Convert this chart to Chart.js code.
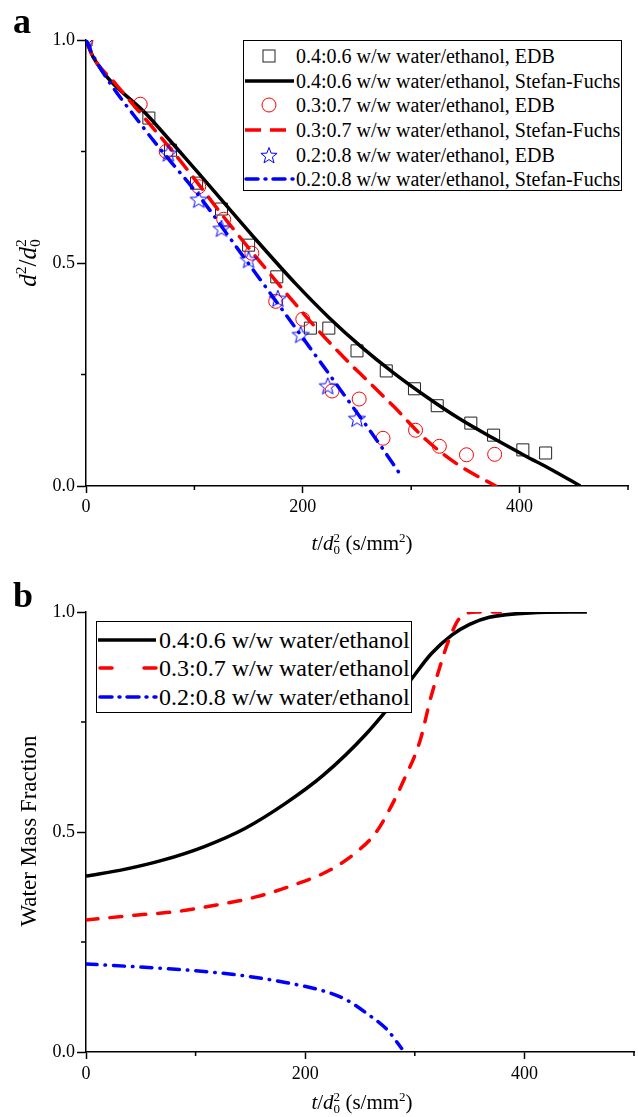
<!DOCTYPE html>
<html>
<head>
<meta charset="utf-8">
<script src="https://cdn.jsdelivr.net/npm/chart.js@4.4.1/dist/chart.umd.min.js"></script>
<style>
  body { margin: 0; background: #fff; }
  #wrap { position: relative; width: 638px; height: 1117px; font-family: 'Liberation Serif', 'Times New Roman', serif; color: #000; overflow: hidden; }
  canvas { position: absolute; left: 0; }
  .abs { position: absolute; white-space: nowrap; line-height: 1; }
  .letter { font-weight: bold; font-size: 36px; }
  .ss { display: inline-flex; flex-direction: column; font-size: 0.62em; line-height: 0.92em; vertical-align: 0.62em; }
  .sup { font-size: 0.62em; vertical-align: 0.62em; }
  .legend { position: absolute; box-sizing: border-box; border: 1.5px solid #000; background: #fff; }
  .row { position: absolute; left: 0; display: flex; align-items: center; white-space: nowrap; }
  .row svg { flex: none; }
</style>
</head>
<body>
<div id="wrap">
  <canvas id="chartA" width="638" height="530" style="top:0"></canvas>
  <canvas id="chartB" width="638" height="557" style="top:560px"></canvas>

  <div class="abs letter" style="left:13px; top:3px">a</div>
  <div class="abs letter" style="left:13px; top:577px">b</div>

  <!-- axis titles, panel a -->
  <div class="abs" style="left:28px; top:263px; font-size:25px; transform:translate(-50%,-50%) rotate(-90deg)">
    <i>d</i><span class="sup">2</span>/<i>d</i><span class="ss"><span>2</span><span>0</span></span>
  </div>
  <div class="abs" style="left:362px; top:543px; font-size:21px; transform:translate(-50%,-50%)">
    <i>t</i>/<i>d</i><span class="ss"><span>2</span><span>0</span></span> (s/mm<span class="sup">2</span>)
  </div>

  <!-- axis titles, panel b -->
  <div class="abs" style="left:28px; top:831px; font-size:23px; transform:translate(-50%,-50%) rotate(-90deg)">Water Mass Fraction</div>
  <div class="abs" style="left:362px; top:1102px; font-size:21px; transform:translate(-50%,-50%)">
    <i>t</i>/<i>d</i><span class="ss"><span>2</span><span>0</span></span> (s/mm<span class="sup">2</span>)
  </div>

  <!-- legend, panel a -->
  <div class="legend" style="left:243px; top:40px; width:379px; height:151px; font-size:20px">
    <div class="row" style="top:3px; height:24px"><svg width="52" height="24"><rect x="19" y="6" width="12" height="12" fill="none" stroke="#222" stroke-width="1"/></svg><span>0.4:0.6 w/w water/ethanol, EDB</span></div>
    <div class="row" style="top:28px; height:24px"><svg width="52" height="24"><line x1="1" y1="12" x2="50" y2="12" stroke="#000" stroke-width="3.5"/></svg><span>0.4:0.6 w/w water/ethanol, Stefan-Fuchs</span></div>
    <div class="row" style="top:52px; height:24px"><svg width="52" height="24"><circle cx="25" cy="12" r="7" fill="none" stroke="#ff0000" stroke-width="1"/></svg><span>0.3:0.7 w/w water/ethanol, EDB</span></div>
    <div class="row" style="top:77px; height:24px"><svg width="52" height="24"><line x1="1" y1="12" x2="50" y2="12" stroke="#ff0000" stroke-width="3.5" stroke-dasharray="16 9"/></svg><span>0.3:0.7 w/w water/ethanol, Stefan-Fuchs</span></div>
    <div class="row" style="top:102px; height:24px"><svg width="52" height="24"><polygon id="starPoly" fill="none" stroke="#0000ff" stroke-width="1"/></svg><span>0.2:0.8 w/w water/ethanol, EDB</span></div>
    <div class="row" style="top:126px; height:24px"><svg width="52" height="24"><line x1="2" y1="12" x2="50" y2="12" stroke="#0000ff" stroke-width="3.5" stroke-linecap="round" stroke-dasharray="12 7 1 7"/></svg><span>0.2:0.8 w/w water/ethanol, Stefan-Fuchs</span></div>
  </div>

  <!-- legend, panel b -->
  <div class="legend" style="left:96px; top:621px; width:316px; height:92px; font-size:24px">
    <div class="row" style="top:4px; height:28px"><svg width="62" height="28"><line x1="1" y1="14" x2="59" y2="14" stroke="#000" stroke-width="3.5"/></svg><span>0.4:0.6 w/w water/ethanol</span></div>
    <div class="row" style="top:32px; height:28px"><svg width="62" height="28"><line x1="3" y1="14" x2="59" y2="14" stroke="#ff0000" stroke-width="3.5" stroke-linecap="round" stroke-dasharray="12 32"/></svg><span>0.3:0.7 w/w water/ethanol</span></div>
    <div class="row" style="top:61px; height:28px"><svg width="62" height="28"><line x1="3" y1="14" x2="59" y2="14" stroke="#0000ff" stroke-width="3.5" stroke-linecap="round" stroke-dasharray="12 7 1 7"/></svg><span>0.2:0.8 w/w water/ethanol</span></div>
  </div>
</div>

<script>
// ---- panel a: d^2/d0^2 vs t/d0^2 ----
const edbT_46 = [0, 58, 78, 102, 125, 150, 176, 207, 224, 250, 277, 303, 324, 355, 376, 403, 424];
const edbV_46 = [1.0, 0.825, 0.753, 0.679, 0.621, 0.540, 0.469, 0.354, 0.354, 0.303, 0.258, 0.218, 0.180, 0.141, 0.114, 0.081, 0.074];
const edbT_37 = [0, 50, 74, 104, 127, 153, 175, 200, 227, 252, 274, 304, 326, 351, 377];
const edbV_37 = [1.0, 0.856, 0.750, 0.671, 0.598, 0.522, 0.414, 0.374, 0.213, 0.195, 0.107, 0.125, 0.089, 0.070, 0.071];
const edbT_28 = [0, 76, 104, 125, 150, 177, 198, 223, 250];
const edbV_28 = [1.0, 0.747, 0.643, 0.578, 0.508, 0.421, 0.340, 0.225, 0.152];

const sfT_46 = [0, 7, 58, 100, 154, 194, 224, 254, 284, 314, 345, 375, 405, 430, 456];
const sfV_46 = [1.0, 0.96, 0.828, 0.712, 0.56, 0.452, 0.378, 0.312, 0.253, 0.200, 0.150, 0.108, 0.068, 0.036, 0.0];
const sfT_37 = [0, 7, 25, 85, 133, 182, 212, 242, 258, 284, 314, 345, 378];
const sfV_37 = [1.0, 0.96, 0.908, 0.735, 0.585, 0.44, 0.355, 0.278, 0.24, 0.178, 0.103, 0.045, 0.0];
const sfT_28 = [0, 7, 55, 106, 139, 164, 206, 240, 269, 291];
const sfV_28 = [1.0, 0.963, 0.797, 0.645, 0.535, 0.452, 0.312, 0.198, 0.100, 0.022];

// ---- panel b: water mass fraction vs t/d0^2 ----
const wT_46 = [0, 35, 70, 108, 145, 182, 216, 256, 294, 315, 334, 350, 368, 405, 457];
const wV_46 = [0.40, 0.415, 0.436, 0.467, 0.508, 0.565, 0.628, 0.724, 0.838, 0.905, 0.948, 0.972, 0.988, 0.998, 1.0];
const wT_37 = [0, 45, 82, 119, 156, 190, 223, 249, 264, 275, 290, 305, 314, 323, 331, 342, 357, 378];
const wV_37 = [0.30, 0.311, 0.319, 0.334, 0.353, 0.38, 0.414, 0.459, 0.497, 0.542, 0.618, 0.709, 0.8, 0.876, 0.936, 0.989, 1.0, 1.0];
const wT_28 = [0, 70, 108, 145, 182, 219, 238, 256, 275, 288];
const wV_28 = [0.2, 0.19, 0.183, 0.173, 0.158, 0.137, 0.118, 0.088, 0.05, 0.008];

// axis ticks
const xMajor = [0, 200, 400];
const xMinor = [100, 300, 500];
const yMajor = [0, 0.5, 1.0];
const yMinor = [0.25, 0.75];

function pts(ts, vs) {
    return ts.map((t, i) => ({ x: t, y: vs[i] }));
}

function starPoints(cx, cy, r) {
    const p = [];
    for (let i = 0; i < 10; i++) {
        const a = -Math.PI / 2 + i * Math.PI / 5;
        const rr = i % 2 ? r * 0.42 : r;
        p.push([cx + rr * Math.cos(a), cy + rr * Math.sin(a)]);
    }
    return p;
}

// hollow 5-point star used as point style
function makeStar(r, color) {
    const s = Math.ceil(r * 2 + 4);
    const c = document.createElement('canvas');
    c.width = s; c.height = s;
    const g = c.getContext('2d');
    g.strokeStyle = color;
    g.lineWidth = 1;
    g.beginPath();
    starPoints(s / 2, s / 2 + 1, r).forEach(([px, py], i) => i ? g.lineTo(px, py) : g.moveTo(px, py));
    g.closePath();
    g.stroke();
    return c;
}
document.getElementById('starPoly').setAttribute('points',
    starPoints(25, 13, 8.5).map(p => p.join(',')).join(' '));

// shorter ticks for the minor positions
const minorTicks = {
    id: 'minorTicks',
    afterDraw(chart) {
        const { ctx, chartArea, scales: { x, y } } = chart;
        ctx.save();
        ctx.strokeStyle = '#000';
        ctx.lineWidth = 1.5;
        ctx.beginPath();
        xMinor.forEach(v => {
            const px = x.getPixelForValue(v);
            ctx.moveTo(px, chartArea.bottom);
            ctx.lineTo(px, chartArea.bottom + 4);
        });
        yMinor.forEach(v => {
            const py = y.getPixelForValue(v);
            ctx.moveTo(chartArea.left - 5, py);
            ctx.lineTo(chartArea.left, py);
        });
        ctx.stroke();
        ctx.restore();
    }
};

const tickFont = { family: 'Liberation Serif', size: 18 };

function makeScales(xHeight, xPad) {
    return {
        x: {
            type: 'linear', min: 0, max: 500,
            afterFit: s => { s.height = xHeight; },
            border: { display: true, color: '#000', width: 1.5 },
            grid: {
                drawOnChartArea: false, tickLength: 7, tickWidth: 1.5,
                tickColor: c => xMajor.includes(c.tick.value) ? '#000' : 'rgba(0,0,0,0)'
            },
            ticks: {
                stepSize: 100, color: '#000', font: tickFont, padding: xPad, maxRotation: 0,
                callback: v => xMajor.includes(v) ? String(v) : ''
            }
        },
        y: {
            type: 'linear', min: 0, max: 1,
            afterFit: s => { s.width = 86; },
            border: { display: true, color: '#000', width: 1.5 },
            grid: {
                drawOnChartArea: false, tickLength: 9, tickWidth: 1.5,
                tickColor: c => yMajor.includes(c.tick.value) ? '#000' : 'rgba(0,0,0,0)'
            },
            ticks: {
                stepSize: 0.25, color: '#000', font: tickFont, padding: 2,
                callback: v => yMajor.includes(v) ? v.toFixed(1) : ''
            }
        }
    };
}

const baseOptions = {
    responsive: false,
    animation: false,
    plugins: { legend: { display: false }, tooltip: { enabled: false } }
};

function lineSet(ts, vs, color, dash, order) {
    return {
        data: pts(ts, vs), showLine: true, borderColor: color, borderWidth: 3.5,
        borderDash: dash, borderCapStyle: dash.length ? 'round' : 'butt',
        pointRadius: 0, cubicInterpolationMode: 'monotone', order: order
    };
}

function markerSet(ts, vs, color, style, radius, order) {
    return {
        data: pts(ts, vs), showLine: false, pointStyle: style, pointRadius: radius,
        borderColor: color, borderWidth: 1, backgroundColor: 'rgba(0,0,0,0)', order: order
    };
}

new Chart(document.getElementById('chartA'), {
    type: 'scatter',
    data: {
        datasets: [
            markerSet(edbT_46, edbV_46, '#222', 'rect', 8.5, 5),
            lineSet(sfT_46, sfV_46, '#000', [], 4),
            markerSet(edbT_37, edbV_37, '#ff0000', 'circle', 7, 3),
            lineSet(sfT_37, sfV_37, '#ff0000', [15, 10], 2),
            markerSet(edbT_28, edbV_28, '#0000ff', makeStar(9, '#0000ff'), 9, 1),
            lineSet(sfT_28, sfV_28, '#0000ff', [12, 8, 0.5, 8], 0)
        ]
    },
    options: Object.assign({}, baseOptions, {
        layout: { padding: { top: 40, left: 0, right: 0, bottom: 0 } },
        scales: makeScales(44, 3)
    }),
    plugins: [minorTicks]
});

new Chart(document.getElementById('chartB'), {
    type: 'scatter',
    data: {
        datasets: [
            lineSet(wT_46, wV_46, '#000', [], 2),
            lineSet(wT_37, wV_37, '#ff0000', [12, 12], 1),
            lineSet(wT_28, wV_28, '#0000ff', [11, 8, 0.5, 8], 0)
        ]
    },
    options: Object.assign({}, baseOptions, {
        layout: { padding: { top: 52, left: 0, right: 2, bottom: 0 } },
        scales: makeScales(65, 4)
    }),
    plugins: [minorTicks]
});
</script>
</body>
</html>
